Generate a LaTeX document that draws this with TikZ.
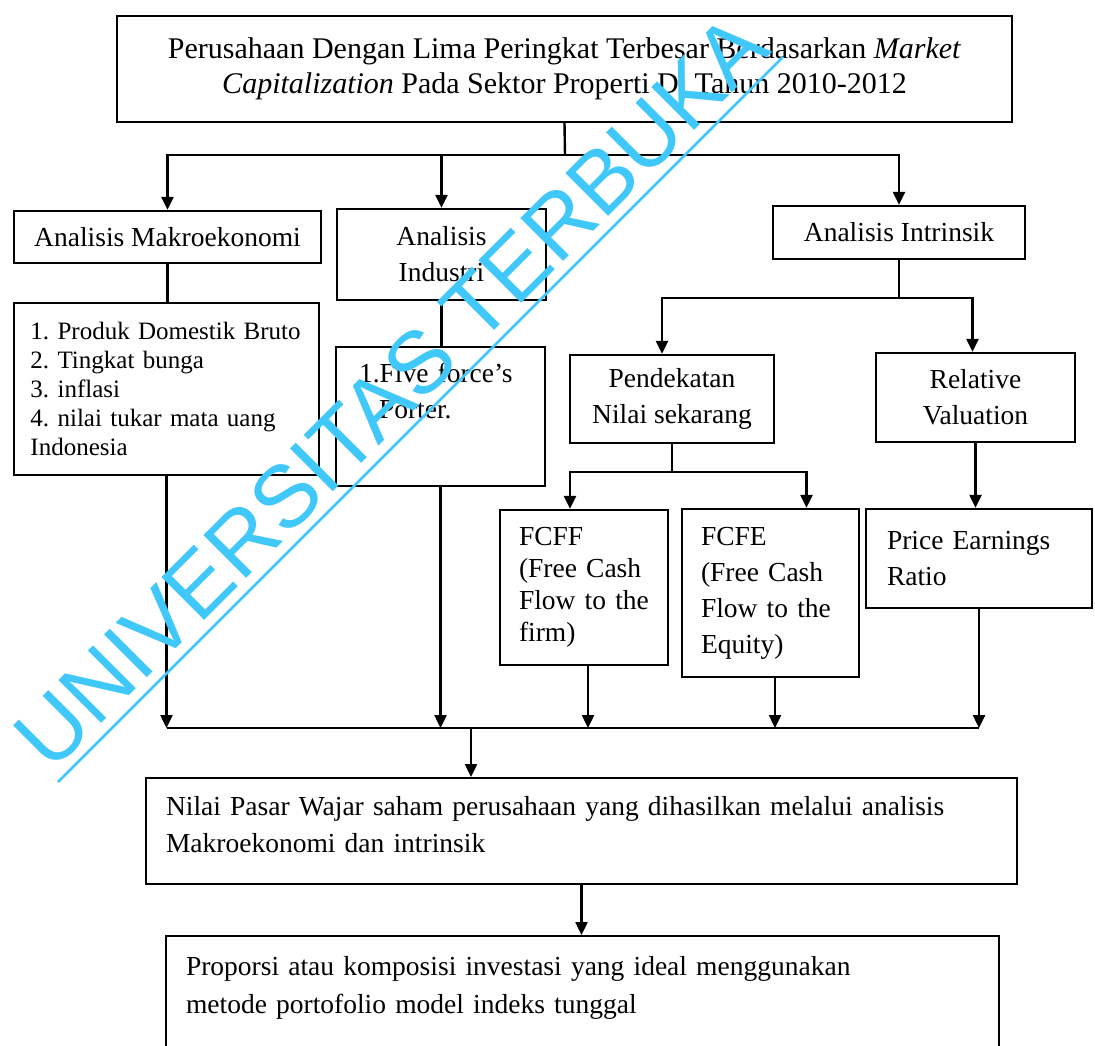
\documentclass[tikz,border=0pt]{standalone}
\usepackage{fontspec}
\setmainfont{Liberation Serif}
\newfontfamily\wmfont{Liberation Sans}
\usetikzlibrary{arrows.meta}
\definecolor{wmcyan}{RGB}{64,200,250}
\frenchspacing

\begin{document}
\begin{tikzpicture}[x=1pt,y=-1pt,>={Triangle[length=13pt,width=12pt]},line width=2.4pt,
  box/.style={draw,inner sep=0pt,align=center,font=\fontsize{27.5}{36}\selectfont},
  lbox/.style={box,align=left}]
\useasboundingbox (0,0) rectangle (1095,1045);
% top
\node (title) at (564.5,69) [box,minimum width=895,minimum height=106,font=\fontsize{30}{35}\selectfont]
	{Perusahaan Dengan Lima Peringkat Terbesar Berdasarkan \textit{Market}\\\textit{Capitalization} Pada Sektor Properti Di Tahun 2010-2012};
\node (makro) at (167.5,237) [box,minimum width=307,minimum height=52] {Analisis Makroekonomi};
\node (indus) at (441.5,254.5) [box,minimum width=209,minimum height=91] {Analisis\\Industri};
\node (intr) at (899,232.5) [box,minimum width=252,minimum height=53] {Analisis Intrinsik};
% second row
\node (makrolist) at (166.5,389) [lbox,minimum width=305,minimum height=172,text width=272,font=\fontsize{25}{29}\selectfont]
	{1. Produk Domestik Bruto\\2. Tingkat bunga\\3. inflasi\\4. nilai tukar mata uang\\Indonesia};
\node (porter) at (440.5,346) [lbox,anchor=north,minimum width=209,text width=163,inner ysep=15,text height=20,text depth=89]
	{1.Five force’s\\\hspace*{20pt}Porter.};
\node (pend) at (672,399) [box,minimum width=204,minimum height=88] {Pendekatan\\Nilai sekarang};
\node (rel) at (975.5,397.5) [box,minimum width=199,minimum height=89] {Relative\\Valuation};
% third row
\node (fcff) at (584,587.5) [lbox,minimum width=168,minimum height=155,text width=130,font=\fontsize{27.5}{32}\selectfont]
	{FCFF\\(Free Cash\\Flow to the\\firm)};
\node (fcfe) at (770.5,593) [lbox,minimum width=177,minimum height=168,text width=139] {FCFE\\(Free Cash\\Flow to the\\Equity)};
\node (per) at (979,558.5) [lbox,minimum width=226,minimum height=99,text width=184] {Price Earnings\\Ratio};
% bottom
\node (nilai) at (581.5,777) [lbox,anchor=north,minimum width=871,text width=831,inner ysep=17,text height=20,text depth=52,font=\fontsize{27.5}{37}\selectfont]
	{Nilai Pasar Wajar saham perusahaan yang dihasilkan melalui analisis\\Makroekonomi dan intrinsik};
\node (prop) at (582.5,935) [lbox,anchor=north,minimum width=833,text width=793,inner ysep=19,text height=20,text depth=200,font=\fontsize{27.5}{38}\selectfont]
	{Proporsi atau komposisi investasi yang ideal menggunakan\\metode portofolio model indeks tunggal};
% connectors
\coordinate (bus1) at (565,155);
\draw (title.south) -- (bus1);
\draw[->] (bus1) -| (makro.north);
\draw[->] (bus1 -| indus.north) -- (indus.north);
\draw[->] (bus1) -| (intr.north);
\draw (makro.south) -- (makro.south |- makrolist.north);
\draw (indus.south) -- (indus.south |- porter.north);
\coordinate (bus2) at (899,298);
\coordinate (pendin) at ([xshift=-10pt]pend.north);
\coordinate (relin) at ([xshift=-3pt]rel.north);
\draw (intr.south) -- (bus2);
\draw[->] (bus2) -| (pendin);
\draw[->] (bus2) -| (relin);
\coordinate (bus3) at (672,472);
\coordinate (fcffin) at ([xshift=-14pt]fcff.north);
\coordinate (fcfein) at ([xshift=36pt]fcfe.north);
\draw (pend.south) -- (bus3);
\draw[->] (bus3) -| (fcffin);
\draw[->] (bus3) -| (fcfein);
\draw[->] (rel.south) -- (rel.south |- per.north);
\coordinate (bus4) at (471,728);
\coordinate (fcffout) at ([xshift=4pt]fcff.south);
\coordinate (fcfeout) at ([xshift=4.5pt]fcfe.south);
\draw[->] (makrolist.south) -- (makrolist.south |- bus4);
\draw[->] (porter.south) -- (porter.south |- bus4);
\draw[->] (fcffout) -- (fcffout |- bus4);
\draw[->] (fcfeout) -- (fcfeout |- bus4);
\draw[->] (per.south) -- (per.south |- bus4);
\draw (makrolist.south |- bus4) -- (per.south |- bus4);
\draw[->] (bus4) -- (bus4 |- nilai.north);
\draw[->] (nilai.south) -- (nilai.south |- prop.north);
% watermark
\draw[wmcyan,line width=2.5pt] (58,782) -- (783,57);
\node (wm) at (412,413) [wmcyan,font=\wmfont\fontsize{88}{88}\selectfont,rotate=45,anchor=base,inner sep=0pt] {UNIVERSITAS TERBUKA};
\end{tikzpicture}
\end{document}
